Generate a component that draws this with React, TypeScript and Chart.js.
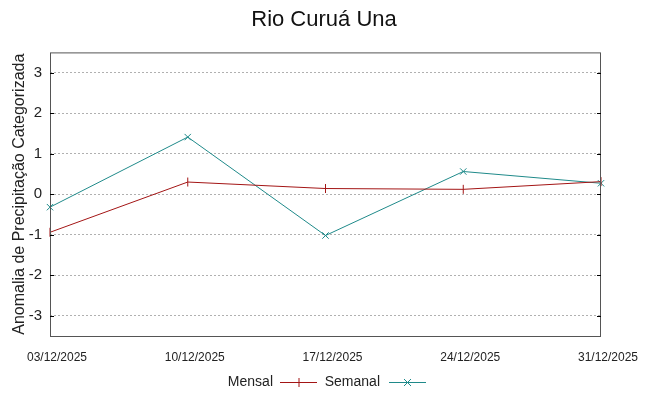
import React, { useEffect, useRef } from "react";
import { Chart, registerables } from "chart.js";

Chart.register(...registerables);

const title = "Rio Curuá Una";
const yTitle = "Anomalia de Precipitação Categorizada";
const dates = ["03/12/2025", "10/12/2025", "17/12/2025", "24/12/2025", "31/12/2025"];
const mensal = [-0.94, 0.3, 0.14, 0.12, 0.31];
const semanal = [-0.32, 1.41, -1.02, 0.56, 0.27];
const yTicks = [-3, -2, -1, 0, 1, 2, 3];

const RED = "#a31515";
const TEAL = "#1f8a8a";
const FONT = "'Liberation Sans', Arial, sans-serif";

const framePlugin = {
  id: "frame",
  afterDatasetsDraw(chart: any) {
    const { ctx, chartArea: a, scales } = chart;
    ctx.save();
    ctx.strokeStyle = "#555";
    ctx.lineWidth = 1;
    ctx.strokeRect(a.left + 0.5, a.top + 0.5, a.right - a.left - 1, a.bottom - a.top);
    ctx.strokeStyle = "#000";
    const y = scales.y;
    for (const v of yTicks) {
      const py = Math.round(y.getPixelForValue(v)) + 0.5;
      ctx.beginPath();
      ctx.moveTo(a.left, py);
      ctx.lineTo(a.left + 4, py);
      ctx.moveTo(a.right, py);
      ctx.lineTo(a.right - 4, py);
      ctx.stroke();
    }
    ctx.restore();
  },
  afterDraw(chart: any) {
    const { ctx } = chart;
    ctx.save();
    ctx.font = `14px ${FONT}`;
    ctx.fillStyle = "#222";
    ctx.textBaseline = "middle";
    const ly = 382;
    ctx.textAlign = "right";
    ctx.fillText("Mensal", 273, ly);
    ctx.fillText("Semanal", 380, ly);
    const drawSample = (x0: number, x1: number, color: string, cross: boolean) => {
      ctx.strokeStyle = color;
      ctx.lineWidth = 1;
      ctx.beginPath();
      ctx.moveTo(x0, ly + 0.5);
      ctx.lineTo(x1, ly + 0.5);
      const cx = (x0 + x1) / 2;
      if (cross) {
        ctx.moveTo(cx - 3.5, ly - 3);
        ctx.lineTo(cx + 3.5, ly + 4);
        ctx.moveTo(cx + 3.5, ly - 3);
        ctx.lineTo(cx - 3.5, ly + 4);
      } else {
        ctx.moveTo(cx + 0.5, ly - 4);
        ctx.lineTo(cx + 0.5, ly + 5);
      }
      ctx.stroke();
    };
    drawSample(280, 317, RED, false);
    drawSample(389, 426, TEAL, true);
    ctx.restore();
  },
};

export default function App() {
  const ref = useRef<HTMLCanvasElement>(null);
  useEffect(() => {
    if (!ref.current) return;
    const chart = new Chart(ref.current, {
      type: "line",
      data: {
        labels: dates,
        datasets: [
          {
            label: "Mensal",
            data: mensal,
            borderColor: RED,
            backgroundColor: RED,
            borderWidth: 1,
            pointStyle: "line",
            rotation: 90,
            pointRadius: 4.5,
            pointBorderWidth: 1,
            tension: 0,
          },
          {
            label: "Semanal",
            data: semanal,
            borderColor: TEAL,
            backgroundColor: TEAL,
            borderWidth: 1,
            pointStyle: "crossRot",
            pointRadius: 4.5,
            pointBorderWidth: 1,
            tension: 0,
          },
        ],
      },
      options: {
        responsive: false,
        animation: false,
        layout: { padding: { left: 6, right: 6, top: 0, bottom: 28 } },
        plugins: {
          legend: { display: false },
          tooltip: { enabled: false },
          title: {
            display: true,
            text: title,
            color: "#111",
            font: { family: FONT, size: 22, weight: "normal" },
            padding: { top: 7, bottom: 19 },
          },
        },
        scales: {
          x: {
            type: "category",
            offset: false,
            grid: { display: false, drawTicks: false },
            border: { display: false },
            ticks: {
              color: "#222",
              font: { family: FONT, size: 12 },
              padding: 14,
              labelOffset: 7,
              maxRotation: 0,
              autoSkip: false,
            },
            afterFit: (s: any) => {
              s.height = 32;
            },
          },
          y: {
            min: -3.5,
            max: 3.5,
            afterBuildTicks: (s: any) => {
              s.ticks = yTicks.map((v) => ({ value: v }));
            },
            grid: {
              color: "#b0b0b0",
              drawTicks: false,
              lineWidth: (c: any) => (c.tick && yTicks.includes(c.tick.value) ? 1 : 0),
            },
            border: { display: false, dash: [2, 2] },
            ticks: {
              color: "#222",
              font: { family: FONT, size: 15 },
              padding: 8,
              callback: (v: any) => String(v),
            },
            title: {
              display: true,
              text: yTitle,
              color: "#222",
              font: { family: FONT, size: 16 },
              padding: { top: 4, bottom: 0 },
            },
            afterFit: (s: any) => {
              s.width = 44;
            },
          },
          yRight: {
            position: "right",
            min: -3.5,
            max: 3.5,
            grid: { display: false, drawTicks: false },
            border: { display: false },
            ticks: { display: false },
            afterFit: (s: any) => {
              s.width = 41;
            },
          },
        },
      },
      plugins: [framePlugin],
    });
    return () => chart.destroy();
  }, []);
  return (
    <div style={{ position: "fixed", left: 0, top: 0, width: 648, height: 396, background: "#fff" }}>
      <canvas ref={ref} width={648} height={396} style={{ width: 648, height: 396 }} />
    </div>
  );
}
